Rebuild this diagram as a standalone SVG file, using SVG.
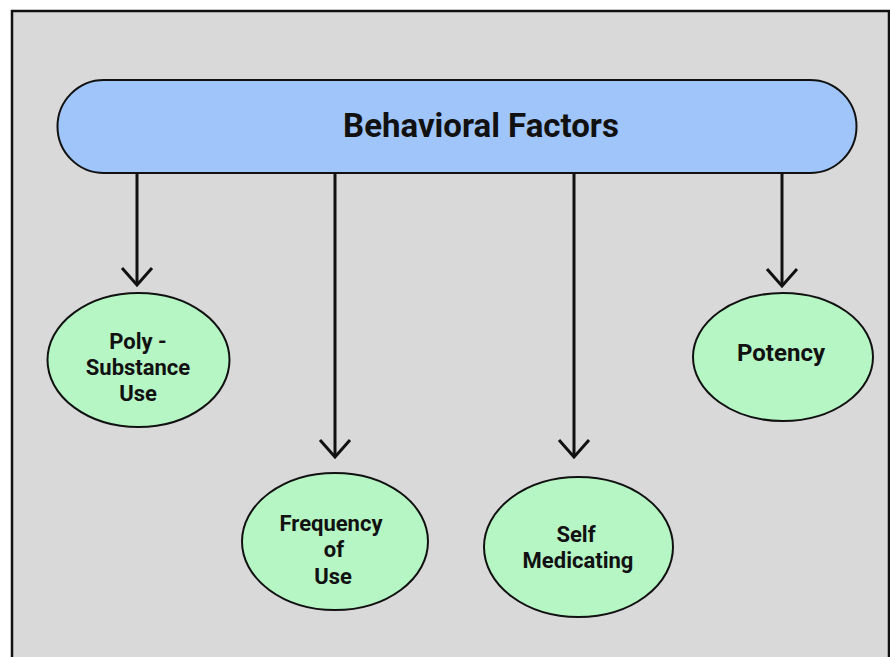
<svg xmlns="http://www.w3.org/2000/svg" width="890" height="657" viewBox="0 0 890 657">
<defs>
<style>
.node ellipse{fill:#b6f5c4;stroke:#111;stroke-width:2}
.lbl{font-family:Roboto,"Liberation Sans",sans-serif;font-weight:bold;font-size:22px;fill:#111;text-anchor:middle}
.conn line,.conn polyline{stroke:#111;stroke-width:3;fill:none}
</style>
</defs>
<rect x="0" y="0" width="890" height="657" fill="#ffffff"/>
<rect x="12" y="11" width="877" height="660" fill="#d9d9d9" stroke="#111" stroke-width="2.5"/>
<g id="behavioral-factors">
<rect x="57.5" y="80" width="799" height="93" rx="46.5" ry="46.5" fill="#9fc5fb" stroke="#111" stroke-width="2"/>
<text x="481" y="137" style="font-family:Roboto,'Liberation Sans',sans-serif;font-weight:bold;font-size:33px;fill:#111;text-anchor:middle">Behavioral Factors</text>
</g>
<g id="connectors" class="conn">
<line x1="137" y1="173" x2="137" y2="285"/>
<polyline points="122,268 137,285 152,268"/>
<line x1="335" y1="173" x2="335" y2="457"/>
<polyline points="320,440 335,457 350,440"/>
<line x1="574" y1="173" x2="574" y2="457"/>
<polyline points="559,440 574,457 589,440"/>
<line x1="782" y1="173" x2="782" y2="286"/>
<polyline points="767,269 782,286 797,269"/>
</g>
<g id="poly-substance-use" class="node">
<ellipse cx="138.5" cy="360" rx="91" ry="67"/>
<text class="lbl" x="138" y="349">Poly -</text>
<text class="lbl" x="138" y="375">Substance</text>
<text class="lbl" x="138" y="401">Use</text>
</g>
<g id="frequency-of-use" class="node">
<ellipse cx="335" cy="541.5" rx="93" ry="68.5"/>
<text class="lbl" x="331" y="531">Frequency</text>
<text class="lbl" x="334" y="557">of</text>
<text class="lbl" x="333" y="584">Use</text>
</g>
<g id="self-medicating" class="node">
<ellipse cx="578.5" cy="547" rx="94.5" ry="70"/>
<text class="lbl" x="576" y="542">Self</text>
<text class="lbl" x="578" y="568">Medicating</text>
</g>
<g id="potency" class="node">
<ellipse cx="783" cy="357" rx="90" ry="64"/>
<text class="lbl" x="781" y="361" style="font-size:24px">Potency</text>
</g>
</svg>
